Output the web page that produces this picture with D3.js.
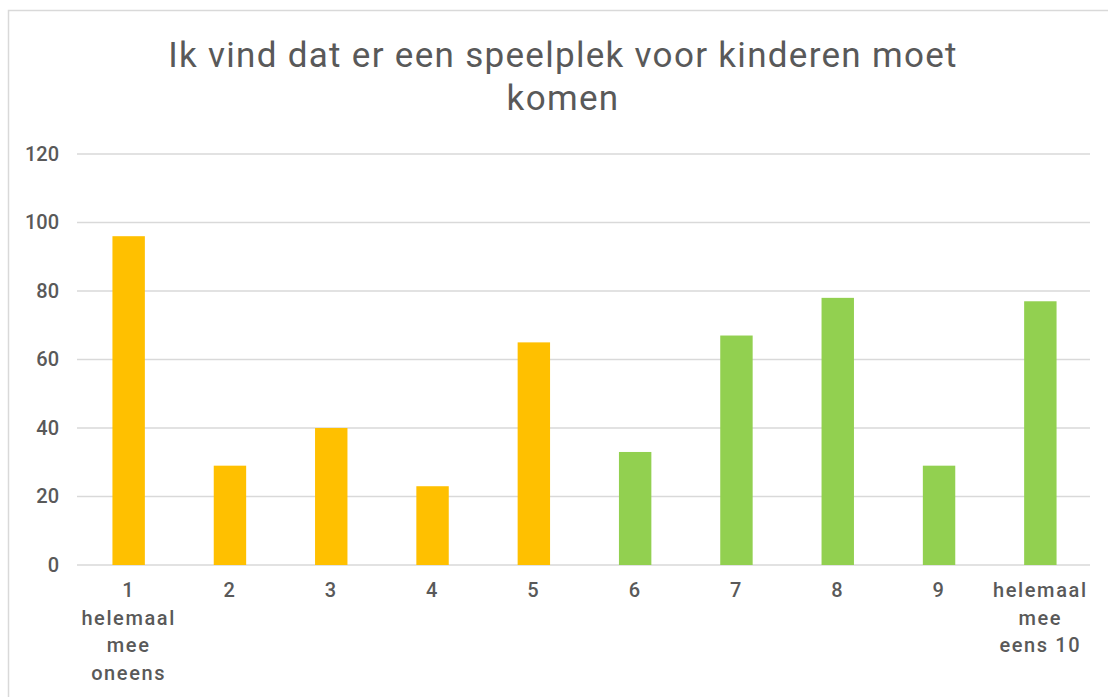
<!DOCTYPE html>
<html>
<head>
<meta charset="utf-8">
<script src="https://cdn.jsdelivr.net/npm/d3@7"></script>
<style>
  body { margin: 0; background: #fff; }
  text { font-family: "Roboto", "Liberation Sans", sans-serif; fill: #595959; }
</style>
</head>
<body>
<svg id="chart" width="1108" height="697"></svg>
<script>
// data
var categories = ["1 helemaal mee oneens", "2", "3", "4", "5", "6", "7", "8", "9", "helemaal mee eens 10"];
var labelLines = [["1", "helemaal", "mee", "oneens"], ["2"], ["3"], ["4"], ["5"], ["6"], ["7"], ["8"], ["9"], ["helemaal", "mee", "eens 10"]];
var values = [96, 29, 40, 23, 65, 33, 67, 78, 29, 77];
var barColors = ["#FFC000", "#FFC000", "#FFC000", "#FFC000", "#FFC000", "#92D050", "#92D050", "#92D050", "#92D050", "#92D050"];
var yTicks = [0, 20, 40, 60, 80, 100, 120];
var titleLines = ["Ik vind dat er een speelplek voor kinderen moet", "komen"];

var svg = d3.select("#chart");
var width = 1108, height = 697;
var margin = {left: 77, right: 18, top: 154, bottom: 132};

// outer frame
svg.append("rect")
    .attr("x", 8.5).attr("y", 10.5)
    .attr("width", 1108).attr("height", 700)
    .attr("fill", "none").attr("stroke", "#d9d9d9").attr("stroke-width", 1.5);

var x = d3.scaleBand()
    .domain(categories)
    .range([margin.left + 1, width - margin.right + 1])
    .paddingInner(0.68).paddingOuter(0.34);

var y = d3.scaleLinear()
    .domain([0, 120])
    .range([height - margin.bottom, margin.top]);

// gridlines
svg.append("g").selectAll("line")
    .data(yTicks)
    .enter().append("line")
    .attr("x1", margin.left).attr("x2", width - margin.right)
    .attr("y1", function(d){ return y(d); }).attr("y2", function(d){ return y(d); })
    .attr("stroke", "#d9d9d9").attr("stroke-width", 1.5);

// y labels
var yAxis = d3.axisLeft(y).tickValues(yTicks).tickSize(0).tickPadding(18);
var yg = svg.append("g").attr("transform", "translate(" + margin.left + ",0)").call(yAxis);
yg.select(".domain").remove();
yg.selectAll("text").attr("font-size", 20).attr("fill", "#595959")
    .style("font-weight", 500)
    .style("font-family", "Roboto, 'Liberation Sans', sans-serif");

// bars
svg.append("g").selectAll("rect")
    .data(values)
    .enter().append("rect")
    .attr("x", function(d, i){ return x(categories[i]); })
    .attr("y", function(d){ return y(d); })
    .attr("width", x.bandwidth())
    .attr("height", function(d){ return y(0) - y(d); })
    .attr("fill", function(d, i){ return barColors[i]; });

// x labels, wrapped like the original
var xl = svg.append("g").selectAll("text")
    .data(categories)
    .enter().append("text")
    .attr("text-anchor", "middle")
    .attr("font-size", 20)
    .style("font-weight", 500)
    .style("letter-spacing", "1.6px")
    .attr("x", function(d){ return x(d) + x.bandwidth() / 2; })
    .attr("y", y(0) + 32);
xl.each(function(d, i){
    var t = d3.select(this);
    labelLines[i].forEach(function(line, j){
        t.append("tspan")
            .attr("x", x(d) + x.bandwidth() / 2)
            .attr("dy", j == 0 ? 0 : 27.5)
            .text(line);
    });
});

// title
svg.append("text")
    .attr("text-anchor", "middle")
    .attr("font-size", 35)
    .style("letter-spacing", "1.3px")
    .attr("x", 563).attr("y", 67)
    .selectAll("tspan")
    .data(titleLines)
    .enter().append("tspan")
    .attr("x", 563)
    .attr("dy", function(d, i){ return i == 0 ? 0 : 43; })
    .text(function(d){ return d; });
</script>
</body>
</html>
